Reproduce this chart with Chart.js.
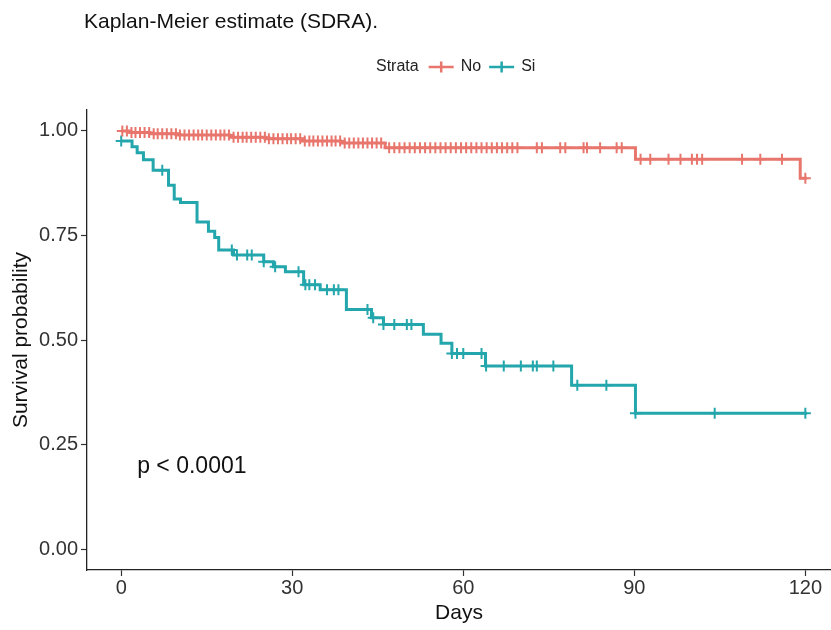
<!DOCTYPE html>
<html>
<head>
<meta charset="utf-8">
<title>Kaplan-Meier estimate (SDRA)</title>
<script src="https://cdn.jsdelivr.net/npm/chart.js@4.4.1/dist/chart.umd.min.js"></script>
<style>
  html, body { margin: 0; padding: 0; background: #fff; }
</style>
</head>
<body>
<canvas id="km" width="831" height="630"></canvas>
<script>
const FONT = "'Liberation Sans', Arial, sans-serif";
const RED = '#E8766D';
const TEAL = '#23A6AC';

// axis ticks
const xTicks = [0, 30, 60, 90, 120];
const yTicks = [0, 0.25, 0.5, 0.75, 1];

// strata "No": event times (days) and survival after each step
const noTimes = [0, 1.5, 5, 10, 19, 25.3, 31.8, 38.5, 46.3, 90.2, 119.1, 120.3];
const noSurv  = [1.0, 0.996, 0.993, 0.990, 0.985, 0.981, 0.976, 0.971, 0.960, 0.932, 0.887, 0.887];
// censored observations, "No"
const noCensor = [0.2, 1.0, 1.8, 2.5, 3.3, 4.1, 4.9, 5.7, 6.4, 7.2, 8.0, 8.8, 9.6, 10.3, 11.1, 11.9,
  12.7, 13.5, 14.2, 15.0, 15.8, 16.6, 17.4, 18.1, 18.9, 19.7, 20.5, 21.3, 22.0, 22.8, 23.6, 24.4,
  25.2, 25.9, 26.7, 27.5, 28.3, 29.1, 29.8, 30.6, 31.4, 32.2, 33.0, 33.7, 34.5, 35.3, 36.1, 36.9,
  37.6, 38.4, 39.2, 40.0, 40.8, 41.6, 42.4, 43.2, 44.0, 44.8, 45.6,
  47.0, 47.9, 48.8, 49.7, 50.6, 51.5, 52.4, 53.3, 54.2, 55.1, 56.0, 56.9, 57.8, 58.7, 59.6, 60.5,
  61.4, 62.3, 63.2, 64.1, 65.0, 65.9, 66.8, 67.7, 68.6, 69.5, 72.9, 73.8, 77.0, 77.9, 81.1, 81.7,
  84.0, 86.9, 87.8, 91.1, 92.8, 96.0, 98.1, 100.1, 101.0, 101.9, 108.9, 112.1, 115.9, 120.0];

// strata "Si"
const siTimes = [0, 1.9, 2.8, 3.9, 5.6, 8.3, 9.3, 10.4, 13.3, 15.3, 16.4, 17.1, 19.7, 25.0, 26.7,
  28.8, 32.0, 34.9, 39.5, 43.9, 46.0, 53.0, 56.1, 58.0, 63.9, 79.0, 90.2, 120.3];
const siSurv  = [0.976, 0.962, 0.948, 0.931, 0.906, 0.870, 0.837, 0.829, 0.782, 0.760, 0.745, 0.715,
  0.703, 0.687, 0.675, 0.663, 0.632, 0.620, 0.573, 0.553, 0.537, 0.514, 0.492, 0.468, 0.438, 0.392,
  0.325, 0.325];
const siCensor = [0, 7.2, 19.4, 20.3, 22.1, 22.9, 25.0, 27.0, 31.1, 32.3, 33.0, 34.0, 36.1, 37.3,
  38.1, 43.2, 44.2, 46.0, 47.9, 50.1, 50.9, 58.0, 58.9, 60.0, 63.2, 64.0, 67.1, 70.1, 72.2, 72.9,
  75.8, 80.0, 85.1, 90.2, 104.1, 120.0];

const pValueText = 'p < 0.0001';
const pValuePos = {x: 2.8, y: 0.197};

// survival value of a step curve at time t
function survAt(times, surv, t) {
  let s = surv[0];
  for (let i = 0; i < times.length; i++) {
    if (times[i] <= t) s = surv[i];
  }
  return s;
}

function curve(times, surv) {
  return times.map((t, i) => ({x: t, y: surv[i]}));
}

function marks(censor, times, surv) {
  return censor.map(t => ({x: t, y: survAt(times, surv, t)}));
}

function stepLine(label, data, color) {
  return {
    type: 'line', label: label, data: data,
    borderColor: color, borderWidth: 3, stepped: true,
    pointRadius: 0, fill: false, borderCapStyle: 'butt', borderJoinStyle: 'miter'
  };
}

function censorMarks(label, data, color) {
  return {
    type: 'scatter', label: label, data: data,
    pointStyle: 'cross', pointRadius: 5.5, pointBorderWidth: 2,
    borderColor: color, backgroundColor: color, showLine: false
  };
}

// title, strata legend and p-value text
const kmText = {
  id: 'kmText',
  afterDraw(chart) {
    const ctx = chart.ctx;
    ctx.save();
    ctx.fillStyle = '#111';
    ctx.textBaseline = 'middle';
    ctx.textAlign = 'left';

    ctx.font = '21px ' + FONT;
    ctx.fillText('Kaplan-Meier estimate (SDRA).', 84, 22);

    ctx.font = '16px ' + FONT;
    const ly = 67;
    let lx = 376;
    ctx.fillStyle = '#222';
    ctx.fillText('Strata', lx, ly);
    lx += ctx.measureText('Strata').width + 10;
    [['No', RED], ['Si', TEAL]].forEach(([name, color]) => {
      ctx.strokeStyle = color;
      ctx.lineWidth = 2.5;
      ctx.beginPath();
      ctx.moveTo(lx, ly); ctx.lineTo(lx + 25, ly);
      ctx.moveTo(lx + 12.5, ly - 5.5); ctx.lineTo(lx + 12.5, ly + 5.5);
      ctx.stroke();
      lx += 32;
      ctx.fillText(name, lx, ly);
      lx += ctx.measureText(name).width + 8;
    });

    const px = chart.scales.x.getPixelForValue(pValuePos.x);
    const py = chart.scales.y.getPixelForValue(pValuePos.y);
    ctx.font = '23px ' + FONT;
    ctx.fillStyle = '#111';
    ctx.fillText(pValueText, px, py);
    ctx.restore();
  }
};

new Chart(document.getElementById('km'), {
  type: 'scatter',
  data: {
    datasets: [
      censorMarks('No', marks(noCensor, noTimes, noSurv), RED),
      censorMarks('Si', marks(siCensor, siTimes, siSurv), TEAL),
      stepLine('No', curve(noTimes, noSurv), RED),
      stepLine('Si', curve(siTimes, siSurv), TEAL)
    ]
  },
  options: {
    responsive: false,
    animation: false,
    events: [],
    layout: {padding: {top: 110, left: 0, right: 0, bottom: 0}, autoPadding: false},
    plugins: {legend: {display: false}, tooltip: {enabled: false}, title: {display: false}},
    scales: {
      x: {
        type: 'linear', min: -6, max: 124.5,
        afterBuildTicks: s => { s.ticks = xTicks.map(v => ({value: v})); },
        afterFit: s => { s.height = 60; },
        border: {display: true, color: '#222', width: 1.3},
        grid: {display: true, drawOnChartArea: false, drawTicks: true, tickLength: 6, tickColor: '#333', tickWidth: 1.2},
        ticks: {color: '#333', font: {family: FONT, size: 20}, padding: 0, maxRotation: 0, autoSkip: false},
        title: {display: true, text: 'Days', color: '#111', font: {family: FONT, size: 21}, padding: {top: 0, bottom: 4}}
      },
      y: {
        type: 'linear', min: -0.05, max: 1.05,
        afterBuildTicks: s => { s.ticks = yTicks.map(v => ({value: v})); },
        afterFit: s => { s.width = 87; },
        border: {display: true, color: '#222', width: 1.3},
        grid: {display: true, drawOnChartArea: false, drawTicks: true, tickLength: 6, tickColor: '#333', tickWidth: 1.2},
        ticks: {color: '#333', font: {family: FONT, size: 20}, padding: 3, callback: v => v.toFixed(2)},
        title: {display: true, text: 'Survival probability', color: '#111', font: {family: FONT, size: 21}, padding: {top: 9, bottom: 0}}
      }
    }
  },
  plugins: [kmText]
});
</script>
</body>
</html>
